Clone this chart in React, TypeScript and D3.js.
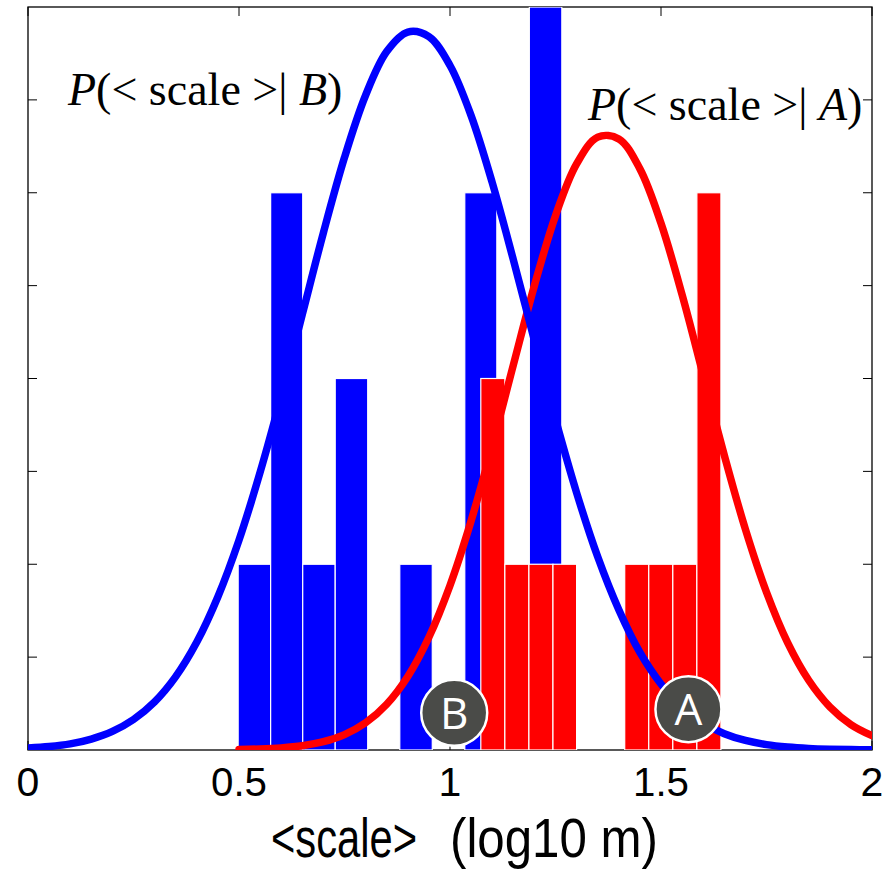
import React from "react";
import * as d3 from "d3";

// ---- data ----
const blueEdges = [0.498, 0.575, 0.651, 0.728, 0.805, 0.881, 0.958, 1.035, 1.111, 1.188, 1.265];
const blueCounts = [2, 6, 2, 4, 0, 2, 0, 6, 0, 8];
const redEdges = [1.073, 1.13, 1.187, 1.244, 1.3, 1.357, 1.414, 1.471, 1.528, 1.585, 1.642];
const redCounts = [4, 2, 2, 2, 0, 0, 2, 2, 2, 6];

const blueCurveX = [0, 0.05, 0.1, 0.15, 0.2, 0.25, 0.3, 0.35, 0.4, 0.45, 0.5, 0.55, 0.6, 0.65, 0.7, 0.75, 0.8, 0.85, 0.9, 0.95, 1.0, 1.05, 1.1, 1.15, 1.2, 1.25, 1.3, 1.35, 1.4, 1.45, 1.5, 1.55, 1.6, 1.65, 1.7, 1.75, 1.8, 1.85, 1.9, 1.95, 2.0];
const blueCurveY = [0.021, 0.037, 0.066, 0.118, 0.2, 0.328, 0.518, 0.79, 1.162, 1.65, 2.26, 2.99, 3.81, 4.69, 5.57, 6.38, 7.05, 7.52, 7.73, 7.68, 7.37, 6.83, 6.11, 5.28, 4.41, 3.56, 2.77, 2.08, 1.51, 1.05, 0.71, 0.46, 0.29, 0.176, 0.103, 0.058, 0.032, 0.017, 0.009, 0.005, 0.002];
const redCurveX = [0.5, 0.55, 0.6, 0.65, 0.7, 0.75, 0.8, 0.85, 0.9, 0.95, 1.0, 1.05, 1.1, 1.15, 1.2, 1.25, 1.3, 1.35, 1.4, 1.45, 1.5, 1.55, 1.6, 1.65, 1.7, 1.75, 1.8, 1.85, 1.9, 1.95, 2.0];
const redCurveY = [0.005, 0.011, 0.023, 0.046, 0.089, 0.166, 0.293, 0.493, 0.792, 1.214, 1.772, 2.467, 3.274, 4.144, 5.0, 5.753, 6.31, 6.599, 6.58, 6.257, 5.671, 4.902, 4.039, 3.174, 2.377, 1.698, 1.156, 0.751, 0.465, 0.274, 0.154];

const xTicks = [0, 0.5, 1, 1.5, 2];
const xTickLabels = ["0", "0.5", "1", "1.5", "2"];
const yTicks = [1, 2, 3, 4, 5, 6, 7];
const xTitleParts = ["<scale>", "(log10 m)"];
const markers = [
  { label: "B", x: 1.01, y: 0.4 },
  { label: "A", x: 1.565, y: 0.44 },
];

const W = 895;
const H = 874;
const left = 28, right = 872, top = 7, bottom = 750;

export default function App() {
  const x = d3.scaleLinear().domain([0, 2]).range([left, right]);
  const y = d3.scaleLinear().domain([0, 8]).range([bottom, top]);

  const line = d3
    .line<[number, number]>()
    .x((d) => x(d[0]))
    .y((d) => y(d[1]))
    .curve(d3.curveCatmullRom);

  const bluePts = blueCurveX.map((v, i) => [v, blueCurveY[i]] as [number, number]);
  const redPts = redCurveX.map((v, i) => [v, redCurveY[i]] as [number, number]);

  const bars = (edges: number[], counts: number[], color: string) =>
    counts.map((c, i) =>
      c > 0 ? (
        <rect
          key={color + i}
          x={x(edges[i])}
          y={y(c)}
          width={x(edges[i + 1]) - x(edges[i])}
          height={y(0) - y(c)}
          fill={color}
          stroke="#ffffff"
          strokeWidth={1.2}
        />
      ) : null
    );

  const tickLen = 9;
  const titleFont = "'Liberation Sans', Arial, sans-serif";

  return (
    <svg
      width={W}
      height={H}
      style={{ position: "absolute", left: 0, top: 0, background: "#fff" }}
    >
      <defs>
        <clipPath id="plot">
          <rect x={left} y={top} width={right - left} height={bottom - top} />
        </clipPath>
      </defs>
      {/* axes box */}
      <rect x={left} y={top} width={right - left} height={bottom - top} fill="none" stroke="#000" strokeWidth={1.3} />
      {yTicks.map((t) => (
        <g key={"yt" + t}>
          <line x1={left} x2={left + tickLen} y1={y(t)} y2={y(t)} stroke="#000" strokeWidth={1} />
          <line x1={right} x2={right - tickLen} y1={y(t)} y2={y(t)} stroke="#000" strokeWidth={1} />
        </g>
      ))}
      {xTicks.map((t) => (
        <g key={"xt" + t}>
          <line x1={x(t)} x2={x(t)} y1={bottom} y2={bottom - tickLen} stroke="#000" strokeWidth={1} />
          <line x1={x(t)} x2={x(t)} y1={top} y2={top + tickLen} stroke="#000" strokeWidth={1} />
        </g>
      ))}
      <g clipPath="url(#plot)">
        {bars(blueEdges, blueCounts, "#0000ff")}
        {bars(redEdges, redCounts, "#ff0000")}
        <path d={line(redPts) || ""} fill="none" stroke="#ff0000" strokeWidth={7.5} strokeLinecap="round" strokeLinejoin="round" />
        <path d={line(bluePts) || ""} fill="none" stroke="#0000ff" strokeWidth={7.5} strokeLinecap="round" strokeLinejoin="round" />
      </g>
      {markers.map((m) => (
        <g key={m.label}>
          <circle cx={x(m.x)} cy={y(m.y)} r={33} fill="#4a4b48" stroke="#ffffff" strokeWidth={2.5} />
          <text
            x={x(m.x)}
            y={y(m.y) + 16}
            textAnchor="middle"
            fontFamily="'Open Sans', sans-serif"
            fontSize={44}
            fill="#ffffff"
          >
            {m.label}
          </text>
        </g>
      ))}
      {xTicks.map((t, i) => (
        <text
          key={"xl" + t}
          x={x(t)}
          y={796}
          textAnchor="middle"
          fontFamily={titleFont}
          fontSize={41}
          fill="#000"
          textLength={xTickLabels[i].length > 1 ? 56 : undefined}
          lengthAdjust="spacingAndGlyphs"
        >
          {xTickLabels[i]}
        </text>
      ))}
      <text
        x={271}
        y={857}
        fontFamily={titleFont}
        fontSize={55}
        fill="#000"
        textLength={146}
        lengthAdjust="spacingAndGlyphs"
      >
        {xTitleParts[0]}
      </text>
      <text
        x={450}
        y={857}
        fontFamily={titleFont}
        fontSize={55}
        fill="#000"
        textLength={208}
        lengthAdjust="spacingAndGlyphs"
      >
        {xTitleParts[1]}
      </text>
      <text x={68} y={105} fontFamily="'Liberation Serif', serif" fontSize={46} fill="#000" style={{ whiteSpace: "pre" }}>
        <tspan fontStyle="italic">P</tspan>
        <tspan>{"(< scale >| "}</tspan>
        <tspan fontStyle="italic">B</tspan>
        <tspan>)</tspan>
      </text>
      <text x={588} y={120} fontFamily="'Liberation Serif', serif" fontSize={46} fill="#000" style={{ whiteSpace: "pre" }}>
        <tspan fontStyle="italic">P</tspan>
        <tspan>{"(< scale >| "}</tspan>
        <tspan fontStyle="italic">A</tspan>
        <tspan>)</tspan>
      </text>
    </svg>
  );
}
